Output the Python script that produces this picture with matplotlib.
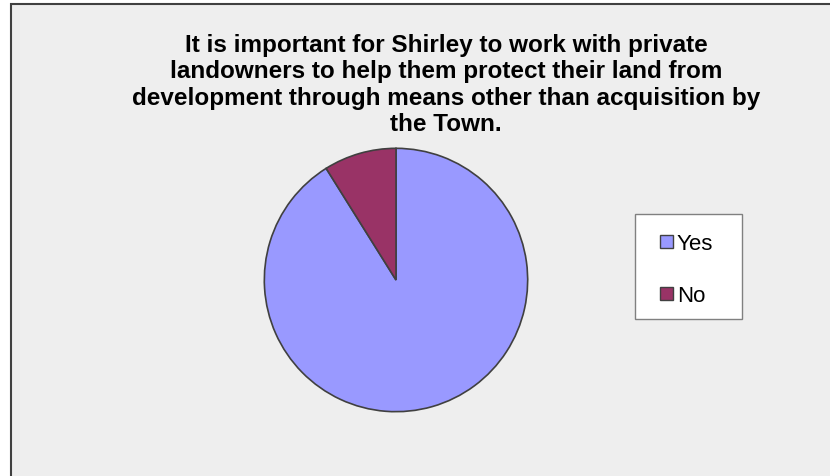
import matplotlib
matplotlib.use("Agg")
import matplotlib.pyplot as plt
from matplotlib.patches import Rectangle

labels = ["Yes", "No"]
values = [91.1, 8.9]
colors = ["#9999ff", "#993366"]
title = ("It is important for Shirley to work with private\n"
         "landowners to help them protect their land from\n"
         "development through means other than acquisition by\n"
         "the Town.")

W, H = 830, 477
fig = plt.figure(figsize=(W / 100, H / 100), dpi=100)
fig.patch.set_facecolor("white")

# overlay in pixel coordinates for the frame, title and legend
ov = fig.add_axes([0, 0, 1, 1], zorder=0)
ov.set_xlim(0, W)
ov.set_ylim(H, 0)
ov.axis("off")
ov.add_patch(Rectangle((10, 4), W - 10, H - 4, facecolor="#eeeeee", edgecolor="none"))
ov.plot([10.5, 10.5], [H, 4], color="#404040", lw=1.5, solid_capstyle="butt")
ov.plot([10, W], [4.5, 4.5], color="#404040", lw=1.5, solid_capstyle="butt")

ov.text(446, 85, title, ha="center", va="center",
        fontsize=17.5, fontweight="bold", family="Liberation Sans",
        linespacing=1.17, color="black")

# legend box
ov.add_patch(Rectangle((635, 215), 107, 105, facecolor="white",
                       edgecolor="#808080", lw=1.0, zorder=3))
for lab, col, yc in zip(labels, colors, [242, 294]):
    ov.add_patch(Rectangle((660, yc - 6.5), 13, 13, facecolor=col,
                           edgecolor="#404040", lw=1.0, zorder=4))
    ov.text(677, yc, lab, ha="left", va="center_baseline", fontsize=16,
            family="Liberation Sans", color="black", zorder=5)

cx, cy, r = 396, 281, 133
ax = fig.add_axes([(cx - r) / W, 1 - (cy + r) / H, 2 * r / W, 2 * r / H], zorder=2)
ax.pie(values, colors=colors, startangle=90, counterclock=False,
       wedgeprops=dict(edgecolor="#404040", linewidth=1.2))
ax.set_aspect("equal")
ax.set_xlim(-1.01, 1.01)
ax.set_ylim(-1.01, 1.01)

fig.savefig("out.png", dpi=100, facecolor="white")
